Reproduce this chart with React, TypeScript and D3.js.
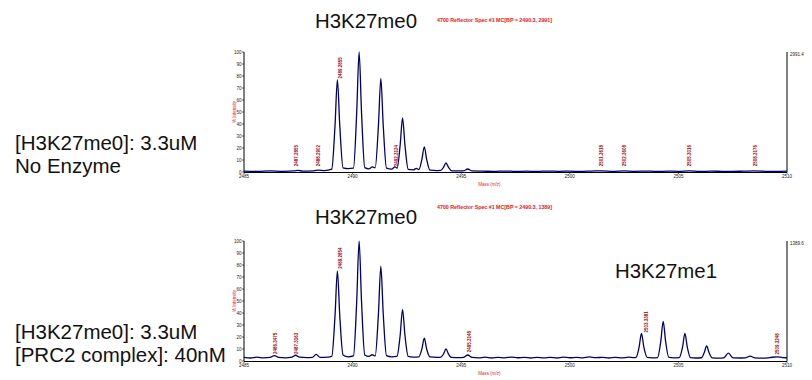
import React from "react";
import * as d3 from "d3";

// ---- data ----
const X_TICKS = [2485, 2490, 2495, 2500, 2505, 2510];
const Y_TICKS = [0, 10, 20, 30, 40, 50, 60, 70, 80, 90, 100];

// spectrum 1: H3K27me0, no enzyme  [m/z, % intensity]
const TRACE_NO_ENZYME: [number, number][] = [
  [2485.0, 0.8], [2485.6, 0.6], [2486.2, 0.9], [2486.8, 0.6], [2487.3, 0.9], [2487.5, 1.3],
  [2487.7, 0.8], [2488.2, 1.0], [2488.45, 1.6], [2488.7, 1.2], [2488.92, 1.8],
  [2489.04, 2.4], [2489.19, 38.5], [2489.3, 77], [2489.41, 38.5], [2489.56, 3.5], [2489.8, 2.8],
  [2490.04, 3.2], [2490.19, 50], [2490.3, 100], [2490.41, 50], [2490.56, 3.6], [2490.75, 2.6], [2490.9, 4.2],
  [2491.04, 3.5], [2491.19, 39], [2491.3, 78], [2491.41, 39], [2491.56, 3.2], [2491.8, 2.4], [2491.95, 4.2],
  [2492.05, 3.2], [2492.19, 22.5], [2492.3, 45], [2492.41, 22.5], [2492.56, 2.2], [2492.8, 1.8], [2492.93, 3.0],
  [2493.05, 2.0], [2493.19, 10.5], [2493.3, 21], [2493.41, 10.5], [2493.56, 1.5], [2493.9, 1.2],
  [2494.06, 1.3], [2494.19, 4], [2494.3, 7.5], [2494.41, 4], [2494.56, 1.0], [2495.0, 0.9],
  [2495.1, 0.9], [2495.3, 2.5], [2495.5, 0.9], [2496.0, 0.7], [2496.5, 0.5], [2497.0, 0.8],
  [2497.5, 0.5], [2498.0, 0.7], [2498.5, 0.5], [2499.0, 0.8], [2499.5, 0.6], [2500.0, 0.7],
  [2500.5, 0.5], [2501.0, 0.8], [2501.5, 1.0], [2502.0, 0.6], [2502.5, 1.0], [2503.0, 0.6],
  [2503.5, 0.8], [2504.0, 0.5], [2504.5, 0.7], [2505.0, 0.6], [2505.5, 0.9], [2506.0, 0.5],
  [2506.5, 0.7], [2507.0, 0.6], [2507.5, 0.5], [2508.0, 0.7], [2508.5, 0.9], [2509.0, 0.6],
  [2509.5, 0.5], [2510.0, 0.7],
];

// spectrum 2: H3K27me0 + PRC2 complex
const TRACE_PRC2: [number, number][] = [
  [2485.0, 3.0], [2485.3, 2.5], [2485.6, 3.2], [2485.9, 2.6], [2486.2, 3.0], [2486.4, 4.5],
  [2486.6, 3.0], [2486.9, 2.6], [2487.2, 3.2], [2487.38, 4.8], [2487.55, 3.2], [2487.9, 2.8],
  [2488.15, 3.0], [2488.32, 5.5], [2488.5, 3.0], [2488.85, 3.2],
  [2489.04, 3.8], [2489.19, 37.5], [2489.3, 75], [2489.41, 37.5], [2489.56, 5.0], [2489.8, 3.5],
  [2490.04, 4.2], [2490.19, 50], [2490.3, 100], [2490.41, 50], [2490.56, 5.0], [2490.76, 3.8], [2490.9, 5.2],
  [2491.04, 4.2], [2491.19, 39.5], [2491.3, 79], [2491.41, 39.5], [2491.56, 4.5], [2491.8, 3.5],
  [2492.04, 3.8], [2492.19, 21.5], [2492.3, 43], [2492.41, 21.5], [2492.56, 3.8], [2492.8, 3.2],
  [2493.05, 3.5], [2493.19, 10], [2493.3, 19], [2493.41, 10], [2493.56, 3.4], [2493.9, 3.0],
  [2494.06, 3.2], [2494.19, 6], [2494.3, 10], [2494.41, 6], [2494.56, 3.0], [2494.9, 2.8],
  [2495.1, 3.0], [2495.3, 5], [2495.5, 3.0], [2495.8, 2.6], [2496.1, 3.2], [2496.4, 2.5],
  [2496.7, 3.0], [2497.0, 2.6], [2497.3, 3.3], [2497.6, 2.7], [2497.9, 3.0], [2498.2, 2.5],
  [2498.5, 3.1], [2498.8, 2.6], [2499.1, 3.0], [2499.4, 2.5], [2499.7, 3.2], [2500.0, 2.7],
  [2500.3, 3.0], [2500.6, 2.6], [2500.9, 3.4], [2501.2, 2.8], [2501.5, 3.0], [2501.8, 2.5],
  [2502.1, 3.0], [2502.4, 2.6], [2502.7, 3.2], [2502.95, 2.8],
  [2503.05, 3.0], [2503.19, 11.5], [2503.3, 23], [2503.41, 11.5], [2503.56, 3.0], [2503.8, 2.6],
  [2504.04, 2.8], [2504.19, 16.5], [2504.3, 33], [2504.41, 16.5], [2504.56, 3.0], [2504.8, 2.6],
  [2505.04, 2.8], [2505.19, 11.5], [2505.3, 23], [2505.41, 11.5], [2505.56, 2.8], [2505.8, 2.5],
  [2506.06, 2.7], [2506.19, 7], [2506.3, 12.5], [2506.41, 7], [2506.56, 2.6], [2506.9, 2.4],
  [2507.08, 2.6], [2507.3, 6.5], [2507.52, 2.6], [2507.9, 2.5],
  [2508.08, 2.6], [2508.3, 4], [2508.52, 2.6], [2508.9, 2.4], [2509.2, 2.8], [2509.55, 3.5],
  [2509.8, 2.8], [2510.0, 2.7],
];

// peak annotations [m/z position, % level at label foot, text]
const LABELS_NO_ENZYME: [number, number, string][] = [
  [2487.44, 4, "2487.2855"], [2488.41, 4, "2488.2902"], [2489.43, 77, "2489.2855"],
  [2492.04, 4, "2492.3124"], [2501.48, 4, "2501.3618"], [2502.5, 4, "2502.3608"],
  [2505.53, 4, "2505.3016"], [2508.53, 4, "2508.3176"],
];
const LABELS_PRC2: [number, number, string][] = [
  [2486.43, 5, "2486.3475"], [2487.44, 5, "2487.3163"], [2489.43, 76, "2489.2854"],
  [2495.4, 6.5, "2495.3148"], [2503.51, 23, "2503.3381"], [2509.54, 4.5, "2509.3248"],
];

const PANELS = [
  {
    trace: TRACE_NO_ENZYME, labels: LABELS_NO_ENZYME, title: "H3K27me0",
    header: "4700 Reflector Spec #1 MC[BP = 2490.3, 2991]", maxLabel: "2991.4",
    cond: ["[H3K27me0]: 3.3uM", "No Enzyme"],
  },
  {
    trace: TRACE_PRC2, labels: LABELS_PRC2, title: "H3K27me0",
    header: "4700 Reflector Spec #1 MC[BP = 2490.3, 1389]", maxLabel: "1389.6",
    cond: ["[H3K27me0]: 3.3uM", "[PRC2 complex]: 40nM"],
  },
];

// ---- layout ----
const W = 812, H = 380;
const X0 = 244, X1 = 787;
const PANEL_Y = [{ top: 52, bottom: 172, titleY: 28, headY: 22, condY: [149.5, 173] },
                 { top: 241, bottom: 361, titleY: 224, headY: 209, condY: [338.5, 362] }];
const FONT = "'Liberation Sans', Arial, sans-serif";
const NAVY = "#00006e";
const LABEL_RED = "#9a0a14";
const RED = "#e8141e";

export default function App() {
  const x = d3.scaleLinear().domain([2485, 2510]).range([X0, X1]);
  return (
    <svg width={W} height={H} style={{ position: "absolute", left: 0, top: 0, background: "#fff" }}
      fontFamily={FONT}>
      {PANELS.map((p, i) => {
        const g = PANEL_Y[i];
        const y = d3.scaleLinear().domain([0, 100]).range([g.bottom, g.top]);
        const line = d3.line<[number, number]>()
          .x((d) => x(d[0])).y((d) => y(d[1])).curve(d3.curveMonotoneX);
        return (
          <g key={i}>
            <text x={315} y={g.titleY} fontSize={20.4} fill="#111">{p.title}</text>
            <text x={437} y={g.headY} fontSize={5} fontWeight="bold" fill={RED}
              textLength={115} lengthAdjust="spacingAndGlyphs">{p.header}</text>
            {p.cond.map((c, k) => (
              <text key={k} x={15} y={g.condY[k]} fontSize={20.5} fill="#111">{c}</text>
            ))}
            {/* axes */}
            <line x1={X0} x2={X0} y1={g.top} y2={g.bottom} stroke="#000" strokeWidth={1} />
            <line x1={X1} x2={X1} y1={g.top} y2={g.bottom} stroke="#000" strokeWidth={1} />
            <line x1={X0} x2={X1} y1={g.bottom + 0.5} y2={g.bottom + 0.5} stroke="#000" strokeWidth={1} />
            {Y_TICKS.map((t) => (
              <g key={t}>
                <line x1={X0 - 2} x2={X0} y1={y(t)} y2={y(t)} stroke="#000" strokeWidth={0.6} />
                <text x={X0 - 2.5} y={y(t) + 1.5} fontSize={4.5} textAnchor="end" fill="#222">{t}</text>
              </g>
            ))}
            {X_TICKS.map((t) => (
              <g key={t}>
                <line x1={x(t)} x2={x(t)} y1={g.bottom} y2={g.bottom + 2} stroke="#000" strokeWidth={0.6} />
                <text x={x(t)} y={g.bottom + 6} fontSize={4.5} textAnchor="middle" fill="#222">{t}</text>
              </g>
            ))}
            <text x={X1 + 3} y={g.top + 4} fontSize={4.5} fill="#222">{p.maxLabel}</text>
            <text x={x(2496.3)} y={g.bottom + 14} fontSize={4.5} fill={RED} textAnchor="middle">Mass (m/z)</text>
            <text transform={`translate(${X0 - 8},${(g.top + g.bottom) / 2}) rotate(-90)`}
              fontSize={4.5} fill={RED} textAnchor="middle">% Intensity</text>
            {/* trace */}
            <path d={line(p.trace) || ""} fill="none" stroke={NAVY} strokeWidth={1.3}
              strokeLinejoin="round" />
            {/* peak labels */}
            {p.labels.map((l, k) => (
              <text key={k} transform={`translate(${x(l[0]) + 1.5},${y(l[1]) - 1}) rotate(-90)`}
                fontSize={4.5} fontWeight="bold" fill={LABEL_RED}>{l[2]}</text>
            ))}
            {i === 1 && (
              <text x={615} y={278} fontSize={20.4} fill="#111">H3K27me1</text>
            )}
          </g>
        );
      })}
    </svg>
  );
}
